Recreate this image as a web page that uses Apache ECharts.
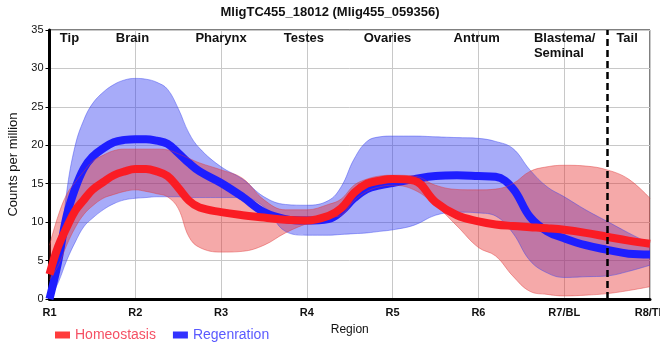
<!DOCTYPE html>
<html><head><meta charset="utf-8">
<script src="https://cdn.jsdelivr.net/npm/echarts@6/dist/echarts.min.js"></script>
<style>html,body{margin:0;padding:0;background:#fff}#c{width:660px;height:360px}</style>
</head><body><div id="c"></div>
<script>
// ---- data ----
const xLabels = ['R1','R2','R3','R4','R5','R6','R7/BL','R8/TL'];
const regionNames = ['Tip','Brain','Pharynx','Testes','Ovaries','Antrum','Blastema/\nSeminal','Tail'];
const xPos = [0,0.1,0.2,0.3,0.4,0.5,0.625,0.75,0.875,1,1.125,1.25,1.375,1.5,1.625,1.75,2,2.25,2.5,2.75,3,3.25,3.4,3.55,3.7,3.85,4,4.25,4.5,4.75,5,5.2,5.4,5.6,5.8,6,6.25,6.5,6.75,7];
const homeoMean  = [3.2,6.8,9.3,11.5,12.9,14.2,15.2,16.1,16.6,16.9,16.9,16.6,16.0,14.5,12.8,11.9,11.3,10.9,10.6,10.3,10.2,10.8,11.8,13.8,15.0,15.4,15.6,15.4,12.6,10.9,10.1,9.7,9.5,9.35,9.2,9.0,8.6,8.1,7.6,7.2];
const homeoUpper = [7.0,10.8,13.6,15.2,16.6,17.9,18.7,19.3,19.5,19.5,19.5,19.5,19.4,18.9,18.3,17.7,16.8,15.7,12.9,11.6,11.6,12.3,13.0,14.8,15.6,16.0,16.1,16.0,14.8,14.25,14.2,14.3,15.0,16.6,17.2,17.4,17.3,16.8,15.6,13.1];
const homeoLower = [2.5,4.3,7.0,9.3,11.0,12.1,13.1,13.6,14.0,14.2,14.0,13.7,13.3,11.8,8.1,6.7,6.1,6.2,7.0,8.6,9.8,10.6,10.9,12.8,14.0,14.6,14.8,14.2,12.2,9.5,6.7,5.6,3.0,1.0,0.6,0.4,0.5,0.7,1.1,1.6];
const regenMean  = [0,4.8,10.8,14.4,17.0,18.5,19.6,20.4,20.7,20.8,20.8,20.6,20.2,19.0,17.7,16.6,15.1,13.3,11.3,10.4,10.2,10.4,11.4,13.1,14.3,14.8,15.1,15.6,16.0,16.1,16.0,15.9,14.4,10.7,8.8,7.9,7.0,6.4,5.9,5.8];
const regenUpper = [0.5,3.8,13.9,20.0,23.3,25.4,26.9,27.9,28.5,28.7,28.6,28.2,27.3,24.8,21.6,19.6,17.2,15.6,13.3,12.3,12.2,12.8,14.6,18.2,20.5,21.1,21.2,21.2,21.1,21.0,20.9,20.5,19.6,16.8,14.6,13.3,11.6,10.1,8.6,7.2];
const regenLower = [0,2.1,5.0,7.4,9.4,10.5,11.6,12.4,12.9,13.1,13.2,13.3,13.3,13.3,13.2,13.2,13.2,13.2,12.0,8.8,8.3,8.3,8.4,8.5,8.6,8.8,9.0,9.6,10.9,11.3,11.2,10.8,8.6,5.0,3.4,2.8,2.9,3.0,3.6,4.4];
const tailBoundary = 6.5;

// ---- layout (not data) ----
const regionAt = [0.233,0.967,2,2.966,3.94,4.98,5.647,6.733];
const regionAlign = ['center','center','center','center','center','center','left','center'];
const regionTopY = 34.87;

const FONT = '"Liberation Sans", Arial, Helvetica, sans-serif';
const SMOOTH = 0.4;
function pairs(ys){ return xPos.map((x,i)=>[x, ys[i]]); }
// band rows are [value, x] so the stack runs on the value dimension
function bandRows(ys){ return xPos.map((x,i)=>[ys[i], x]); }
function bandDiffRows(up, lo){ return xPos.map((x,i)=>[+(up[i]-lo[i]).toFixed(4), x]); }

const chart = echarts.init(document.getElementById('c'), null, {renderer:'canvas'});
const bandBase = {type:'line', smooth:SMOOTH, symbol:'none', silent:true, encode:{x:1, y:0}};
const option = {
  animation:false,
  backgroundColor:'#fff',
  textStyle:{fontFamily:FONT},
  title:{text:'MligTC455_18012 (Mlig455_059356)', left:'center', top:1,
    textStyle:{fontFamily:FONT, fontSize:13, fontWeight:'bold', color:'#111'}},
  legend:{left:50, top:323, icon:'rect', itemWidth:15, itemHeight:7, itemGap:17,
    textStyle:{fontFamily:FONT, fontSize:14},
    data:[{name:'Homeostasis', textStyle:{color:'#f55064'}, itemStyle:{color:'#ff3c3c'}},
          {name:'Regenration', textStyle:{color:'#5a5aff'}, itemStyle:{color:'#3333ff'}}]},
  grid:{left:49.5, right:10, top:30, bottom:61, containLabel:false, outerBoundsMode:'none',
    show:true, borderColor:'#000', borderWidth:1, backgroundColor:'transparent'},
  xAxis:{type:'value', min:0, max:7, interval:1,
    name:'Region', nameLocation:'middle', nameGap:25,
    nameTextStyle:{fontFamily:FONT, fontSize:12, color:'#111'},
    axisLine:{show:true, lineStyle:{color:'#000', width:3}},
    axisTick:{show:false},
    axisLabel:{margin:8, fontFamily:FONT, fontSize:11, fontWeight:'bold', color:'#111',
      formatter:v=>xLabels[v] !== undefined ? xLabels[v] : ''},
    splitLine:{show:true, lineStyle:{color:'#c8c8c8', width:1}}},
  yAxis:{type:'value', min:0, max:35, interval:5,
    name:'Counts per million', nameLocation:'middle', nameGap:23,
    nameTextStyle:{fontFamily:FONT, fontSize:13, color:'#111'},
    axisLine:{show:true, lineStyle:{color:'#000', width:3}},
    axisTick:{show:true, length:4, lineStyle:{color:'#000', width:1}},
    axisLabel:{margin:6, fontFamily:FONT, fontSize:11, color:'#111'},
    splitLine:{show:true, lineStyle:{color:'#c8c8c8', width:1}}},
  series:[
    Object.assign({}, bandBase, {name:'regenLo', stack:'regenBand', data:bandRows(regenLower),
      lineStyle:{width:1, color:'rgba(60,70,240,0.45)'}}),
    Object.assign({}, bandBase, {name:'regenBand', stack:'regenBand', data:bandDiffRows(regenUpper, regenLower),
      lineStyle:{width:1, color:'rgba(60,70,240,0.45)'}, areaStyle:{color:'rgba(45,55,240,0.42)', opacity:1}}),
    {name:'Regenration', type:'line', data:pairs(regenMean), smooth:SMOOTH, symbol:'none',
      lineStyle:{width:8, color:'#1e1eff'}, itemStyle:{color:'#3333ff'}},
    Object.assign({}, bandBase, {name:'homeoLo', stack:'homeoBand', data:bandRows(homeoLower),
      lineStyle:{width:1, color:'rgba(225,60,60,0.45)'}}),
    Object.assign({}, bandBase, {name:'homeoBand', stack:'homeoBand', data:bandDiffRows(homeoUpper, homeoLower),
      lineStyle:{width:1, color:'rgba(225,60,60,0.45)'}, areaStyle:{color:'rgba(230,40,40,0.4)', opacity:1}}),
    {name:'Homeostasis', type:'line', data:pairs(homeoMean), smooth:SMOOTH, symbol:'none',
      lineStyle:{width:8, color:'#fa1c24'}, itemStyle:{color:'#ff3c3c'},
      markLine:{silent:true, symbol:'none', label:{show:false},
        lineStyle:{type:[7,4], color:'#000', width:2.5},
        data:[{xAxis:tailBoundary}]}}
  ]
};
chart.setOption(option);
const gfx = regionNames.map((t,i)=>{
  const p = chart.convertToPixel({gridIndex:0}, [regionAt[i], regionTopY]);
  return {type:'text', x:p[0], y:p[1], silent:true, z:100,
    style:{text:t, font:'bold 13px '+FONT, fill:'#111', align:regionAlign[i], textAlign:regionAlign[i],
      verticalAlign:'top', textVerticalAlign:'top', lineHeight:15}};
});
chart.setOption({graphic:gfx});
</script></body></html>
